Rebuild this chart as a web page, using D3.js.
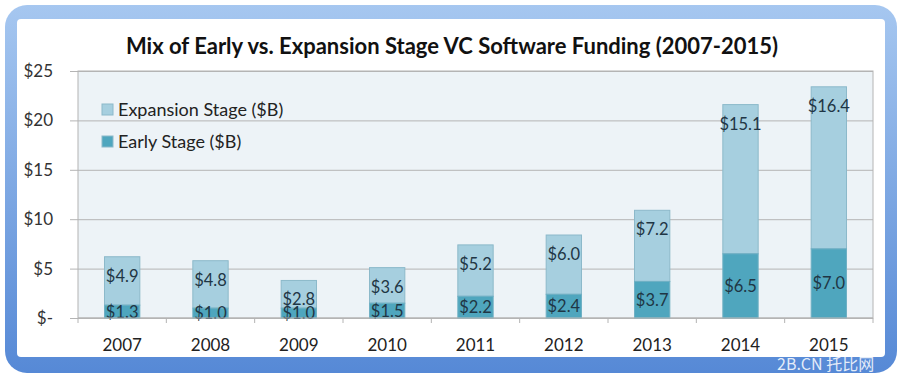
<!DOCTYPE html>
<html><head><meta charset="utf-8">
<script src="https://cdn.jsdelivr.net/npm/d3@7"></script>
<style>body{margin:0;background:#fff;}svg{display:block;}</style>
</head><body>
<svg id="c" width="902" height="381"></svg>
<script>
const years = ["2007","2008","2009","2010","2011","2012","2013","2014","2015"];
const early = [1.3,1.0,1.0,1.5,2.2,2.4,3.7,6.5,7.0];
const expansion = [4.9,4.8,2.8,3.6,5.2,6.0,7.2,15.1,16.4];
const yTicks = [0,5,10,15,20,25];
const yTickLabels = ["$-","$5","$10","$15","$20","$25"];
const seriesNames = ["Expansion Stage ($B)","Early Stage ($B)"];
const title = "Mix of Early vs. Expansion Stage VC Software Funding (2007-2015)";

const svg = d3.select("#c");
const font = "Lato, 'Open Sans', sans-serif";
const defs = svg.append("defs");
const g1 = defs.append("linearGradient").attr("id","bord").attr("x1",0).attr("y1",0).attr("x2",0).attr("y2",1);
g1.append("stop").attr("offset","0%").attr("stop-color","#a6c7f0");
g1.append("stop").attr("offset","100%").attr("stop-color","#5689d6");

// frame
svg.append("rect").attr("x",5).attr("y",5).attr("width",892).attr("height",368).attr("rx",22).attr("fill","url(#bord)");
svg.append("rect").attr("x",17).attr("y",19).attr("width",868).attr("height",338).attr("rx",4).attr("fill","#ffffff");

const m = {left:78, right:873, top:71, bottom:318};
const x = d3.scaleBand().domain(years).range([m.left,m.right]).paddingInner(0.6).paddingOuter(0.3);
const xb = d3.scaleBand().domain(years).range([m.left,m.right]);
const y = d3.scaleLinear().domain([0,25]).range([m.bottom,m.top]);

svg.append("rect").attr("x",m.left).attr("y",m.top).attr("width",m.right-m.left).attr("height",m.bottom-m.top)
  .attr("fill","#edf3f7").attr("stroke","#b4b4b4").attr("stroke-width",1);

// gridlines & y labels
const ya = svg.append("g").attr("transform",`translate(${m.right},0)`).call(d3.axisLeft(y).tickValues(yTicks).tickSize(m.right-70).tickFormat(""));
ya.select(".domain").remove();
ya.selectAll("line").attr("stroke","#b4b4b4");
yTicks.forEach((t,i)=>{
  svg.append("text").attr("x",53).attr("y",y(t)+6).attr("text-anchor","end")
    .attr("font-family",font).attr("font-size",17).attr("fill","#333").text(yTickLabels[i]);
});

// bars
const sg = svg.append("g");
years.forEach((yr,i)=>{
  const bx = x(yr), bw = x.bandwidth();
  const e = early[i], p = expansion[i];
  sg.append("rect").attr("x",bx).attr("y",y(e+p)).attr("width",bw).attr("height",y(e)-y(e+p))
    .attr("fill","#a6cfdf").attr("stroke","#8cb9ca").attr("stroke-width",1);
  sg.append("rect").attr("x",bx).attr("y",y(e)).attr("width",bw).attr("height",y(0)-y(e))
    .attr("fill","#4fa6be").attr("stroke","#6fb0c4").attr("stroke-width",1);
  sg.append("text").attr("x",bx+bw/2).attr("y",y(e+p)+25).attr("text-anchor","middle")
    .attr("font-family",font).attr("font-size",16.5).attr("fill","#1f3645").text("$"+p.toFixed(1));
  const ey = Math.min((y(e)+y(0))/2+6, y(0)+3);
  sg.append("text").attr("x",bx+bw/2).attr("y",ey).attr("text-anchor","middle")
    .attr("font-family",font).attr("font-size",16.5).attr("fill","#1f3645").text("$"+e.toFixed(1));
});

// x axis
svg.append("line").attr("x1",m.left).attr("x2",m.right).attr("y1",m.bottom).attr("y2",m.bottom).attr("stroke","#b4b4b4");
const xt = [m.left, ...years.map(d=>xb(d)+xb.bandwidth())];
xt.forEach(v=>svg.append("line").attr("x1",v).attr("x2",v).attr("y1",m.bottom).attr("y2",m.bottom+5).attr("stroke","#b4b4b4"));
years.forEach(yr=>{
  svg.append("text").attr("x",xb(yr)+xb.bandwidth()/2).attr("y",351).attr("text-anchor","middle")
    .attr("font-family",font).attr("font-size",17).attr("fill","#222").text(yr);
});

// title
svg.append("text").attr("x",452).attr("y",54).attr("text-anchor","middle").attr("font-family",font)
  .attr("font-weight","bold").attr("font-size",22).attr("fill","#111").text(title);

// legend
const lc = ["#a6cfdf","#4fa6be"];
seriesNames.forEach((n,i)=>{
  const ly = 104 + i*32;
  svg.append("rect").attr("x",102).attr("y",ly).attr("width",11).attr("height",11).attr("fill",lc[i]).attr("stroke","#8cb9ca");
  svg.append("text").attr("x",118).attr("y",ly+12).attr("font-family",font).attr("font-size",18).attr("fill","#222").text(n);
});

// watermark
svg.append("text").attr("x",777).attr("y",370).attr("font-family","'Noto Sans CJK SC', sans-serif").attr("font-size",16)
  .attr("fill","#ffffff").attr("fill-opacity",0.85).text("2B.CN 托比网");
</script>
</body></html>
